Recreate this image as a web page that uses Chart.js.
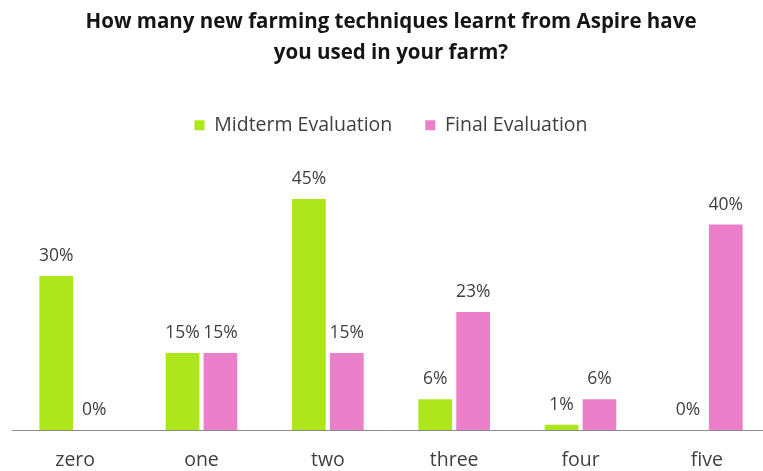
<!DOCTYPE html>
<html>
<head>
<meta charset="utf-8">
<script src="https://cdn.jsdelivr.net/npm/chart.js@4.4.1/dist/chart.umd.min.js"></script>
<style>
  html, body { margin: 0; padding: 0; background: #fff; overflow: hidden; }
  #wrap { width: 790px; height: 471px; }
</style>
</head>
<body>
<div id="wrap"><canvas id="techChart"></canvas></div>
<script>
const categories = ['zero', 'one', 'two', 'three', 'four', 'five'];
const midterm = [30, 15, 45, 6, 1, 0];
const finalEval = [0, 15, 15, 23, 6, 40];

const FONT = '"Open Sans", Lato, sans-serif';

// percent labels sitting above every bar
const valueLabels = {
  id: 'valueLabels',
  afterDatasetsDraw(chart) {
    const { ctx } = chart;
    ctx.save();
    ctx.font = '17.5px ' + FONT;
    ctx.fillStyle = '#3f3f3f';
    ctx.textAlign = 'center';
    ctx.textBaseline = 'middle';
    chart.data.datasets.forEach((ds, di) => {
      chart.getDatasetMeta(di).data.forEach((bar, i) => {
        ctx.fillText(ds.data[i] + '%', bar.x, bar.y - 20);
      });
    });
    ctx.restore();
  }
};

new Chart(document.getElementById('techChart'), {
  type: 'bar',
  data: {
    labels: categories,
    datasets: [
      {
        label: 'Midterm Evaluation',
        data: midterm,
        backgroundColor: '#aee61c',
        categoryPercentage: 0.6,
        barPercentage: 0.89
      },
      {
        label: 'Final Evaluation',
        data: finalEval,
        backgroundColor: '#ec7fca',
        categoryPercentage: 0.6,
        barPercentage: 0.89
      }
    ]
  },
  options: {
    responsive: true,
    maintainAspectRatio: false,
    animation: false,
    layout: { padding: { left: 12, right: 20, top: 0, bottom: 0 } },
    plugins: {
      title: {
        display: true,
        text: ['How many new farming techniques learnt from Aspire have', 'you used in your farm?'],
        color: '#151515',
        font: { family: FONT, size: 20.5, weight: 'bold', lineHeight: 1.5 },
        padding: { top: 7, bottom: 14 }
      },
      legend: {
        display: true,
        labels: {
          color: '#3f3f3f',
          font: { family: FONT, size: 19.5 },
          boxWidth: 10,
          boxHeight: 10,
          padding: 33
        }
      },
      tooltip: { enabled: false }
    },
    scales: {
      x: {
        grid: { display: false },
        border: { display: true, color: '#8c8c8c', width: 1 },
        ticks: { color: '#3f3f3f', font: { family: FONT, size: 19.5 }, padding: 11 },
        afterFit(scale) { scale.height = 41; }
      },
      y: {
        display: false,
        min: 0,
        max: 55.5
      }
    }
  },
  plugins: [valueLabels]
});
</script>
</body>
</html>
